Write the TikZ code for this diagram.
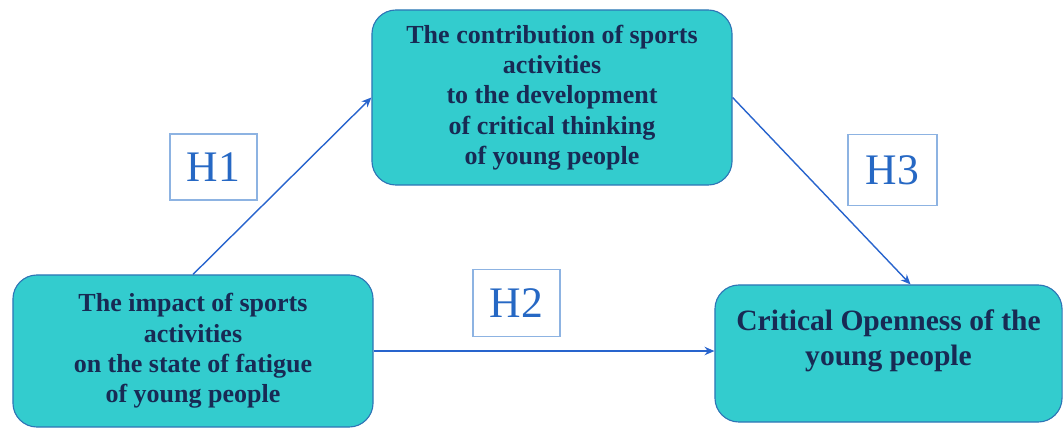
\documentclass[tikz,border=0pt]{standalone}
\usepackage{fontspec}
\setmainfont{Liberation Serif}
\usepackage{tikz}
\usetikzlibrary{arrows.meta, positioning}

\definecolor{boxfill}{RGB}{51,204,206}
\definecolor{boxline}{RGB}{46,117,182}
\definecolor{boxtext}{RGB}{24,42,84}
\definecolor{arrowblue}{RGB}{40,100,205}
\definecolor{hline}{RGB}{141,179,226}
\definecolor{htext}{RGB}{38,104,196}

\begin{document}
\begin{tikzpicture}[x=0.025cm, y=-0.025cm,
    factor/.style={draw=boxline, fill=boxfill, rounded corners=0.6cm, line width=0.8pt,
        text=boxtext, font=\bfseries\fontsize{18.5}{21.5}\selectfont, align=center, inner sep=0pt},
    hyp/.style={draw=hline, fill=white, line width=0.8pt, text=htext,
        font=\fontsize{31}{33}\selectfont, inner sep=0pt},
    link/.style={-{Stealth[length=7pt, width=6pt]}, line width=1pt, arrowblue}]
            \useasboundingbox (0,0) rectangle (1063,429);

            % The three factors
            \node[factor, minimum width=9cm, minimum height=4.375cm] (contrib) at (552,97.5)
                {The contribution of sports\\activities\\to the development\\of critical thinking\\of young people};
            \node[factor, minimum width=9cm, minimum height=3.8cm] (impact) at (193,351)
                {The impact of sports\\activities\\on the state of fatigue\\of young people};
            \node[factor, minimum width=8.675cm, minimum height=3.425cm,
                font=\bfseries\fontsize{21}{25}\selectfont] (openness) at (888.5,353.5)
                {Critical Openness of the\\young people\\[-2pt]\mbox{}};

            % Hypotheses
            \node[hyp, minimum width=2.175cm, minimum height=1.65cm] (h1) at (213.5,167) {H1};
            \node[hyp, minimum width=2.175cm, minimum height=1.675cm] (h2) at (516.5,303) {H2};
            \node[hyp, minimum width=2.225cm, minimum height=1.775cm] (h3) at (892.5,170) {H3};

            % Paths between the factors
            \draw[link] (impact.north) -- (contrib.west);
            \draw[link] (contrib.east) -- ([xshift=0.55cm]openness.north);
            \draw[link] (impact.east) -- (openness.west |- impact.east);

        \end{tikzpicture}
\end{document}
